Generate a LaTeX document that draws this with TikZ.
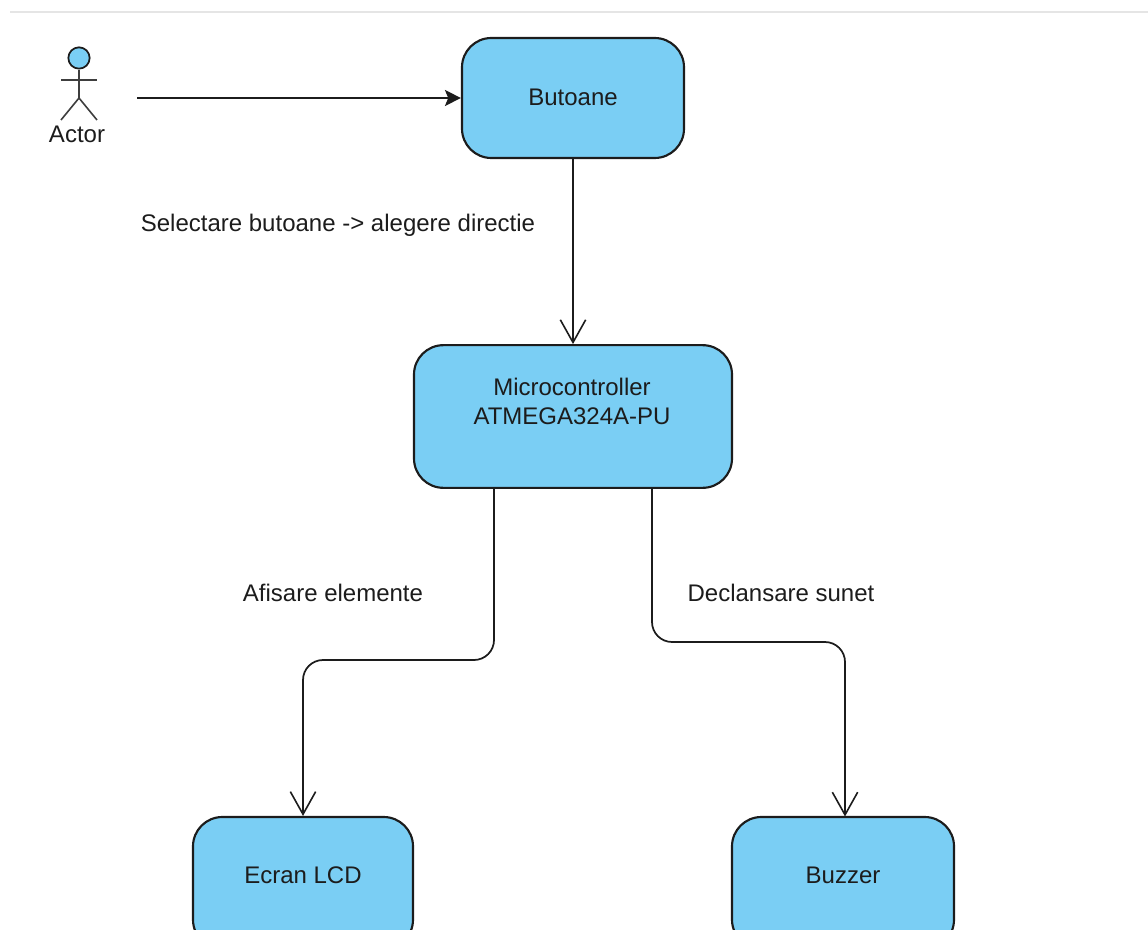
\documentclass[tikz,border=0pt]{standalone}
\usepackage{xcolor}
\usepackage{fontspec}
\setmainfont{Liberation Sans}
\usetikzlibrary{arrows.meta}

\definecolor{blockblue}{HTML}{7ACEF4}
\definecolor{inkdark}{HTML}{1C1C1C}

\tikzset{
    block/.style={draw=inkdark, fill=blockblue, line width=1.6pt, rounded corners=22pt},
    label/.style={font=\fontsize{18}{21.75}\selectfont, text=inkdark},
    wire/.style={draw=inkdark, line width=1.3pt, rounded corners=15pt},
    openhead/.style={-{Straight Barb[length=17pt,width=19pt,line width=1.2pt]}},
    fullhead/.style={-{Stealth[length=12pt,width=12pt,inset=2.5pt]}},
    limb/.style={draw=inkdark!85, line width=1.2pt}
}

\begin{document}
\begin{tikzpicture}[x=0.75pt, y=-0.75pt]
    \useasboundingbox (0, 0) rectangle (1148, 930);
    \clip (0, 0) rectangle (1148, 930);

    \coordinate (topleft) at (10, 12);
    \coordinate (topright) at (1148, 12);
    \draw [line width=1.4pt, black!10] (topleft) -- (topright);

    % blocks
    \node (butoane) at (573, 98) [block, minimum width=166.5pt, minimum height=90pt] {};
    \node at (573, 97) [label] {Butoane};
    \node (micro) at (573, 416.5) [block, minimum width=238.5pt, minimum height=107pt] {};
    \node at (572, 401.5) [label, align=center] {Microcontroller\\ATMEGA324A-PU};
    \node (ecran) at (303, 883) [block, minimum width=165pt, minimum height=99pt] {};
    \node at (303, 875) [label] {Ecran LCD};
    \node (buzzer) at (843, 883) [block, minimum width=166.5pt, minimum height=99pt] {};
    \node at (843, 875) [label] {Buzzer};

    % actor
    \node (head) at (79, 58) [circle, draw=inkdark, fill=blockblue, line width=1.3pt,
        inner sep=0pt, minimum size=16pt] {};
    \coordinate (hip) at (79, 98);
    \coordinate (armleft) at (61, 80);
    \coordinate (armright) at (97, 80);
    \coordinate (legleft) at (61, 120);
    \coordinate (legright) at (97, 120);
    \draw [limb] (head.south) -- (hip);
    \draw [limb] (armleft) -- (armright);
    \draw [limb] (legleft) -- (hip) -- (legright);
    \node (actor) at (77, 134) [label] {Actor};

    % connectors
    \coordinate (actorout) at (137, 98);
    \coordinate (microleft) at (494, 488);
    \coordinate (microright) at (652, 488);
    \draw [wire, fullhead] (actorout) -- (butoane.west);
    \draw [wire, openhead] (butoane.south) -- (micro.north);
    \draw [wire, openhead] (microleft) -- (494, 660) -- (303, 660) -- (ecran.north);
    \draw [wire, openhead] (microright) -- (652, 642) -- (845, 642) -- (845, 816.5);

    \node (select) at (338, 225) [label] {Selectare butoane -> alegere directie};
    \node (afisare) at (333, 593) [label] {Afisare elemente};
    \node (sunet) at (781, 593) [label] {Declansare sunet};
\end{tikzpicture}
\end{document}
